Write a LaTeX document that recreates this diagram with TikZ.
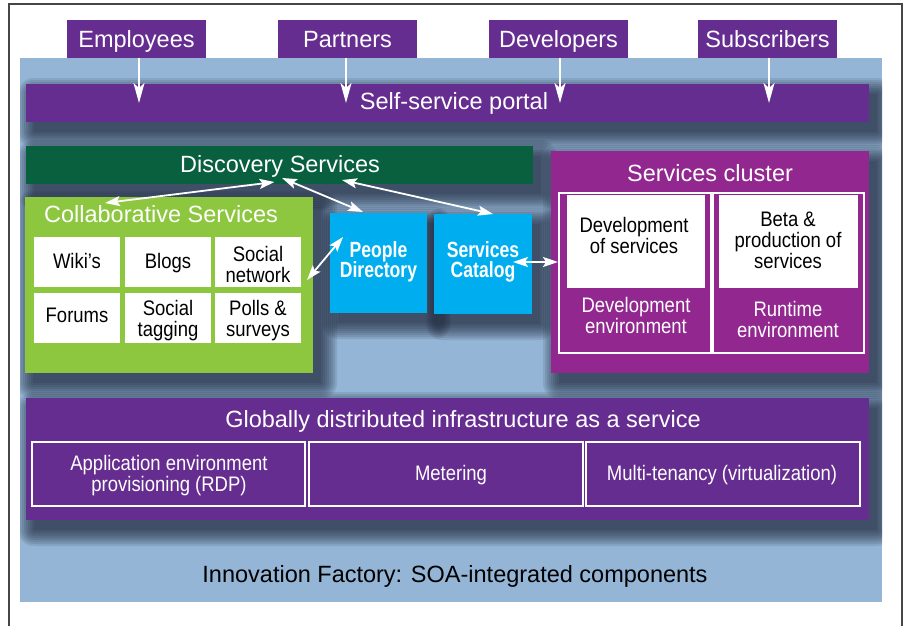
\documentclass[tikz,border=0pt]{standalone}
\usepackage{fontspec}
\setmainfont{Liberation Sans}
\newfontfamily\condfont[FakeStretch=0.88]{Liberation Sans}
\newfontfamily\boldcond[FakeStretch=0.8]{Liberation Sans}
\usetikzlibrary{arrows.meta,calc}
\newcommand\tightlines{\lineskiplimit=-20pt\relax}
\pgfdeclarelayer{backlayer}
\pgfdeclarelayer{shadowlayer}
\pgfsetlayers{backlayer,shadowlayer,main}

\definecolor{bgblue}{RGB}{148,181,214}
\definecolor{portalpurple}{RGB}{102,45,145}
\definecolor{clustermag}{RGB}{146,39,143}
\definecolor{discgreen}{RGB}{8,96,62}
\definecolor{collgreen}{RGB}{141,198,63}
\definecolor{cyanbox}{RGB}{0,174,239}
\definecolor{framegray}{RGB}{70,70,70}
\definecolor{shadenavy}{RGB}{22,30,48}

\newcommand\softshadow[1]{%
  \foreach \r in {0,2,...,16}{%
    \fill[shadenavy, opacity=0.11, rounded corners=\r pt]
      ([xshift={8-\r}, yshift={-10+\r}]#1.north west) rectangle
      ([xshift={8+\r}, yshift={-10-\r}]#1.south east);
  }}

\begin{document}
\begin{tikzpicture}[x=1pt,y=-1pt,
  box/.style={anchor=north west, inner sep=0pt, outer sep=0pt},
  tab/.style={box, fill=portalpurple, minimum width=139pt, minimum height=38pt},
  cell/.style={box, fill=white, minimum width=86pt, minimum height=50pt},
  panel/.style={box, draw=white, line width=2pt, minimum height=160pt},
  infcell/.style={box, draw=white, line width=2pt, minimum height=64pt},
  headtext/.style={anchor=base, inner sep=0pt, text=white, font=\fontsize{23.5}{26}\selectfont},
  celltext/.style={anchor=base, inner sep=0pt, text=black, align=center, font={\condfont\fontsize{21}{21}\selectfont\tightlines}},
  whitecond/.style={celltext, text=white},
  cyantext/.style={anchor=base, inner sep=0pt, text=white, align=center, font={\boldcond\bfseries\fontsize{22}{20}\selectfont\tightlines}},
  downarrow/.style={draw=white, line width=2pt, arrows={-Stealth[length=20pt,width=11pt,inset=5pt]}},
  dblarrow/.style={draw=white, line width=1.8pt, arrows={Stealth[length=15pt,width=10pt,inset=3pt]-Stealth[length=15pt,width=10pt,inset=3pt]}}
]
\useasboundingbox (0,0) rectangle (910,626);

% background and frame
\begin{pgfonlayer}{backlayer}
\node[box, fill=bgblue, minimum width=862pt, minimum height=544pt] (bg) at (20,58) {};
\end{pgfonlayer}
\draw[framegray, line width=1.5pt] (9,640) -- (9,4) -- (902,4) -- (902,640);

% user tabs
\node[tab] (emp) at (67,20) {};
\node[tab] (par) at (278,20) {};
\node[tab] (dev) at (489,20) {};
\node[tab] (sub) at (698,20) {};
\node[headtext] (empT) at (136.5,48) {Employees};
\node[headtext] (parT) at (347.5,48) {Partners};
\node[headtext] (devT) at (558.5,48) {Developers};
\node[headtext] (subT) at (767.5,48) {Subscribers};

% portal
\node[box, fill=portalpurple, minimum width=843pt, minimum height=38pt] (portal) at (26,84) {};
\node[headtext] (portalT) at (454,109) {Self-service portal};

\draw[downarrow] ([xshift=2.5pt]emp.south) -- ([xshift=2.5pt]emp.south |- portal.center);
\draw[downarrow] ([xshift=-1.5pt]par.south) -- ([xshift=-1.5pt]par.south |- portal.center);
\draw[downarrow] ([xshift=1.5pt]dev.south) -- ([xshift=1.5pt]dev.south |- portal.center);
\draw[downarrow] ([xshift=1.5pt]sub.south) -- ([xshift=1.5pt]sub.south |- portal.center);

% discovery services
\node[box, fill=discgreen, minimum width=507pt, minimum height=38pt] (disc) at (26,146) {};
\node[headtext] (discT) at (280,172) {Discovery Services};

% collaborative services
\node[box, fill=collgreen, minimum width=288pt, minimum height=176pt] (coll) at (25,197) {};
\node[headtext] (collT) at (161,222) {Collaborative Services};
\node[cell] (wiki) at (34,237) {};
\node[cell] (blogs) at (125,237) {};
\node[cell] (sn) at (215,237) {};
\node[cell] (forums) at (34,293) {};
\node[cell] (st) at (125,293) {};
\node[cell] (polls) at (215,293) {};
\node[celltext] (wikiT) at (77,268) {Wiki’s};
\node[celltext] (blogsT) at (168,268) {Blogs};
\node[celltext] (snT) at (258,282) {Social\\network};
\node[celltext] (forumsT) at (77,322) {Forums};
\node[celltext] (stT) at (168,336) {Social\\tagging};
\node[celltext] (pollsT) at (258,336) {Polls \&\\surveys};

% people directory and services catalog
\node[box, fill=cyanbox, minimum width=97pt, minimum height=100pt] (pd) at (330,213) {};
\node[cyantext] (pdT) at (378.5,277) {People\\Directory};
\node[box, fill=cyanbox, minimum width=98pt, minimum height=100pt] (sc) at (434,214) {};
\node[cyantext] (scT) at (483,277) {Services\\Catalog};

% services cluster
\node[box, fill=clustermag, minimum width=318pt, minimum height=222pt] (cl) at (551,151) {};
\node[headtext] (clT) at (710,181) {Services cluster};
\node[box, fill=white, minimum width=138pt, minimum height=93pt] (devfill) at (567,195) {};
\node[box, fill=white, minimum width=139pt, minimum height=93pt] (runfill) at (719,195) {};
\node[panel, minimum width=152pt] (devpanel) at (559,193) {};
\node[panel, minimum width=151pt] (runpanel) at (713,193) {};
\node[celltext] (devfillT) at (634,253) {Development\\of services};
\node[celltext] (runfillT) at (788,268) {Beta \&\\production of\\services};
\node[whitecond] (devpanelT) at (636,333) {Development\\environment};
\node[whitecond] (runpanelT) at (788,337) {Runtime\\environment};

% infrastructure
\node[box, fill=portalpurple, minimum width=843pt, minimum height=122pt] (infra) at (26,398) {};
\node[headtext] (infraT) at (463,427) {Globally distributed infrastructure as a service};
\node[infcell, minimum width=273pt] (rdp) at (32,442) {};
\node[infcell, minimum width=274pt] (meter) at (309,442) {};
\node[infcell, minimum width=274pt] (multi) at (586,442) {};
\node[whitecond] (rdpT) at (169,491) {Application environment\\provisioning (RDP)};
\node[whitecond] (meterT) at (451,480) {Metering};
\node[whitecond] (multiT) at (722,480) {Multi-tenancy (virtualization)};

% caption
\node[headtext, text=black] (capT) at (455,582) {Innovation Factory: SOA-integrated components};

% soft shadows, clipped to the blue background
\begin{pgfonlayer}{shadowlayer}
\begin{scope}
\clip (bg.north west) rectangle (bg.south east);
\softshadow{portal}
\softshadow{disc}
\softshadow{coll}
\softshadow{pd}
\softshadow{sc}
\softshadow{cl}
\softshadow{infra}
\end{scope}
\end{pgfonlayer}

% connectors
\draw[dblarrow] ([xshift=80pt,yshift=-6pt]coll.north west) -- ([xshift=-5pt,yshift=2pt]disc.south);
\draw[dblarrow] ([xshift=2.5pt,yshift=6pt]disc.south) -- ([xshift=-15.5pt,yshift=1pt]pd.north);
\draw[dblarrow] ([xshift=62.5pt,yshift=4pt]disc.south) -- ([xshift=10pt]sc.north);
\draw[dblarrow] ([xshift=6pt,yshift=-18pt]sn.east) -- ([xshift=13pt,yshift=26pt]pd.west);
\draw[dblarrow] ([xshift=-19pt,yshift=2pt]sc.east) -- ([xshift=7pt]cl.west);
\end{tikzpicture}
\end{document}
